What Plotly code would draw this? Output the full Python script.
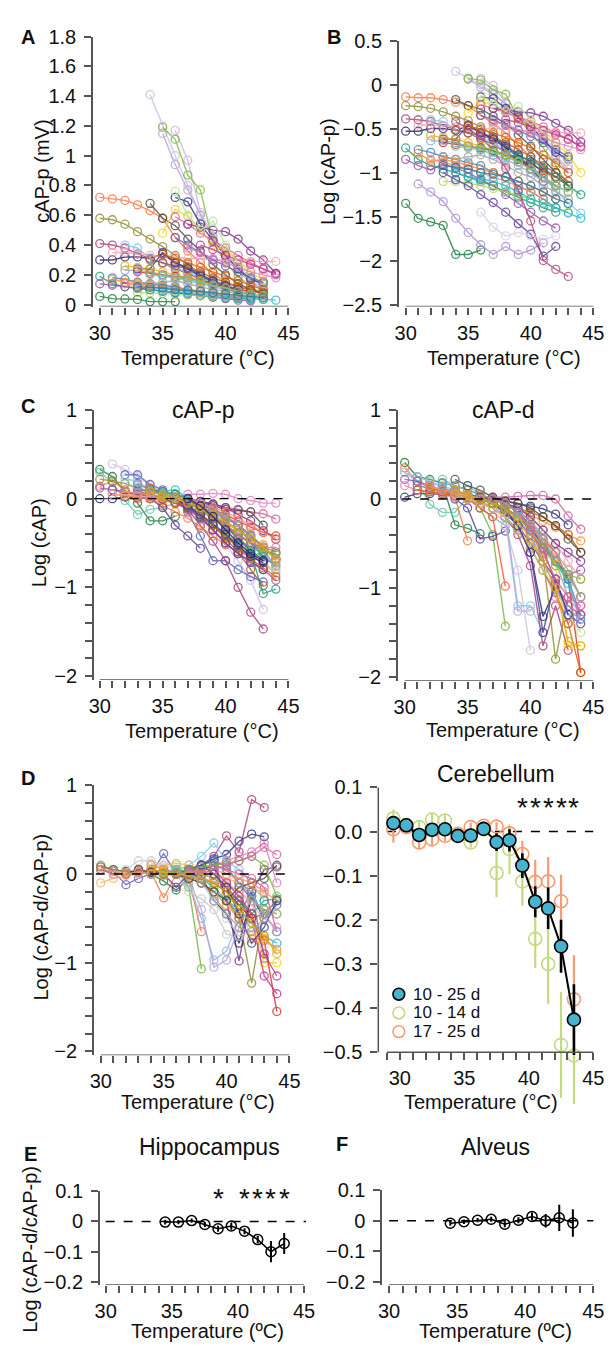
import plotly.graph_objects as go

W, H = 615, 1351
FONT = "Liberation Sans, Arial, sans-serif"
AX = "#555555"
TXT = "#111111"

# ======================= DATA =======================
# Spaghetti panels: each recording starts at *_start (°C) and has one value per 1 °C step.

# ---- Panel A: cAP-p amplitude (mV) ----
A_start = [34, 35, 36, 35, 36, 30, 34, 30, 30, 30, 32, 35, 36, 37, 31, 38, 33, 31, 30, 30,
           33, 34, 31, 30, 33, 32, 32, 34, 36, 33, 32, 34, 35, 36, 37, 33]
A_vals = [
    [1.41, 1.20, 1.00, 0.80, 0.60, 0.46, 0.35, 0.26, 0.18, 0.12],
    [1.15, 0.94, 0.77, 0.60, 0.44, 0.32, 0.22, 0.15, 0.10],
    [1.17, 0.97, 0.62, 0.46, 0.34, 0.24, 0.16, 0.11],
    [1.19, 1.11, 0.87, 0.77, 0.42, 0.28, 0.19, 0.12, 0.07],
    [0.72, 0.69, 0.54, 0.43, 0.33, 0.24, 0.17, 0.14],
    [0.72, 0.71, 0.70, 0.67, 0.63, 0.58, 0.45, 0.36, 0.28, 0.21, 0.15, 0.11, 0.08],
    [0.68, 0.58, 0.53, 0.44, 0.36, 0.27, 0.20, 0.14, 0.10, 0.07],
    [0.58, 0.57, 0.54, 0.49, 0.44, 0.39, 0.33, 0.27, 0.21, 0.16, 0.12, 0.09, 0.07],
    [0.41, 0.40, 0.38, 0.34, 0.31, 0.28, 0.24, 0.21, 0.17, 0.14, 0.11, 0.09, 0.07],
    [0.30, 0.30, 0.32, 0.32, 0.31, 0.34, 0.28, 0.24, 0.19, 0.15, 0.11, 0.08],
    [0.40, 0.38, 0.31, 0.28, 0.25, 0.22, 0.18, 0.15, 0.12, 0.09],
    [0.48, 0.64, 0.59, 0.50, 0.40, 0.36, 0.30, 0.22, 0.16],
    [0.59, 0.54, 0.48, 0.43, 0.38, 0.33, 0.28, 0.24, 0.21],
    [0.54, 0.52, 0.50, 0.49, 0.44, 0.36, 0.30, 0.21],
    [0.35, 0.35, 0.34, 0.33, 0.32, 0.32, 0.31, 0.31, 0.30, 0.30, 0.30, 0.29, 0.29, 0.29],
    [0.40, 0.37, 0.33, 0.30, 0.27, 0.24, 0.20],
    [0.22, 0.21, 0.20, 0.19, 0.18, 0.16, 0.14, 0.12, 0.10, 0.09, 0.08],
    [0.18, 0.17, 0.15, 0.14, 0.13, 0.12, 0.10, 0.09, 0.07, 0.06, 0.05, 0.04],
    [0.19, 0.14, 0.12, 0.11, 0.10, 0.09, 0.08, 0.07, 0.06, 0.05, 0.045, 0.04, 0.035],
    [0.055, 0.04, 0.038, 0.035, 0.02, 0.02, 0.02],
    [0.15, 0.14, 0.15, 0.16, 0.14, 0.12, 0.10, 0.09, 0.07, 0.06, 0.05],
    [0.30, 0.28, 0.26, 0.24, 0.22, 0.18, 0.15, 0.12, 0.10, 0.08],
    [0.17, 0.15, 0.14, 0.13, 0.12, 0.11, 0.10, 0.09, 0.08, 0.07, 0.06, 0.05],
    [0.14, 0.13, 0.12, 0.11, 0.10, 0.09, 0.08, 0.07, 0.06, 0.05, 0.04, 0.03, 0.025],
    [0.08, 0.08, 0.075, 0.07, 0.065, 0.06, 0.055, 0.05, 0.045, 0.04, 0.035],
    [0.23, 0.23, 0.22, 0.20, 0.18, 0.16, 0.14, 0.12, 0.10, 0.08, 0.07],
    [0.14, 0.13, 0.12, 0.11, 0.10, 0.09, 0.08, 0.07, 0.06, 0.05],
    [0.10, 0.09, 0.085, 0.08, 0.07, 0.06, 0.05, 0.045, 0.04, 0.035, 0.03],
    [0.76, 0.60, 0.50, 0.56, 0.40, 0.28, 0.20, 0.14],
    [0.24, 0.24, 0.35, 0.28, 0.25, 0.20, 0.16, 0.13, 0.10],
    [0.26, 0.25, 0.24, 0.22, 0.20, 0.18, 0.16, 0.13, 0.11, 0.09, 0.07, 0.06],
    [0.20, 0.19, 0.18, 0.17, 0.15, 0.13, 0.11, 0.09, 0.07, 0.06],
    [0.34, 0.31, 0.28, 0.25, 0.22, 0.19, 0.16, 0.13, 0.10],
    [0.45, 0.40, 0.35, 0.30, 0.26, 0.22, 0.18, 0.15],
    [0.38, 0.35, 0.31, 0.28, 0.25, 0.22, 0.20, 0.18],
    [0.12, 0.115, 0.11, 0.10, 0.095, 0.09, 0.08, 0.07, 0.06, 0.05, 0.045],
]

# ---- Panel B: Log (cAP-p) ----
B_start = [34, 35, 36, 35, 36, 30, 34, 30, 30, 30, 32, 35, 36, 37, 31, 38, 33, 31, 30, 30,
           33, 34, 31, 30, 33, 32, 32, 34, 36, 33, 31, 33, 34, 36, 36, 32, 34, 35, 36, 37, 33]
B_vals = [
    [0.15, 0.07, 0.0, -0.1, -0.22, -0.34, -0.46, -0.59, -0.74, -0.92],
    [0.06, -0.03, -0.11, -0.22, -0.36, -0.5, -0.66, -0.82, -1.0],
    [0.07, -0.01, -0.21, -0.34, -0.47, -0.62, -0.8, -0.96],
    [0.07, 0.05, -0.06, -0.11, -0.38, -0.55, -0.72, -0.92, -1.15],
    [-0.14, -0.16, -0.27, -0.37, -0.48, -0.62, -0.77, -0.85],
    [-0.14, -0.15, -0.15, -0.17, -0.2, -0.24, -0.35, -0.44, -0.55, -0.68, -0.82, -0.96, -1.1],
    [-0.17, -0.24, -0.28, -0.36, -0.44, -0.57, -0.7, -0.85, -1.0, -1.15],
    [-0.24, -0.25, -0.27, -0.31, -0.36, -0.41, -0.48, -0.57, -0.68, -0.8, -0.92, -1.05, -1.15],
    [-0.39, -0.4, -0.42, -0.47, -0.51, -0.55, -0.62, -0.68, -0.77, -0.85, -0.96, -1.05, -1.15],
    [-0.53, -0.53, -0.5, -0.5, -0.52, -0.47, -0.55, -0.62, -0.72, -0.82, -0.96, -1.1],
    [-0.4, -0.42, -0.51, -0.55, -0.6, -0.66, -0.74, -0.82, -0.92, -1.05, -1.2, -1.35, -1.46],
    [-0.32, -0.19, -0.23, -0.3, -0.4, -0.45, -0.52, -0.66, -0.8, -1.0],
    [-0.23, -0.27, -0.32, -0.37, -0.42, -0.48, -0.55, -0.62, -0.7],
    [-0.27, -0.29, -0.31, -0.32, -0.36, -0.44, -0.52, -0.65],
    [-0.46, -0.46, -0.47, -0.48, -0.49, -0.5, -0.5, -0.51, -0.52, -0.53, -0.53, -0.54, -0.55, -0.55],
    [-0.4, -0.43, -0.48, -0.52, -0.57, -0.62, -0.71],
    [-0.66, -0.68, -0.7, -0.72, -0.75, -0.8, -0.85, -0.9, -0.98, -1.05, -1.15],
    [-0.74, -0.77, -0.82, -0.85, -0.89, -0.92, -1.0, -1.05, -1.15, -1.22, -1.3, -1.4],
    [-0.72, -0.85, -0.92, -0.96, -1.0, -1.05, -1.1, -1.15, -1.22, -1.28, -1.34, -1.4, -1.45],
    [-1.35, -1.52, -1.56, -1.6, -1.93, -1.93, -1.88],
    [-0.82, -0.85, -0.82, -0.8, -0.85, -0.92, -1.0, -1.05, -1.15, -1.22, -1.3],
    [-0.52, -0.55, -0.58, -0.62, -0.66, -0.74, -0.82, -0.92, -1.0, -1.1],
    [-0.78, -0.87, -0.85, -0.88, -0.92, -0.96, -1.0, -1.05, -1.1, -1.15, -1.22, -1.3],
    [-0.85, -0.92, -0.97, -0.9, -0.95, -1.0, -1.08, -1.15, -1.25, -1.35, -1.45, -1.55, -1.63],
    [-1.1, -1.1, -1.12, -1.15, -1.18, -1.22, -1.26, -1.3, -1.35, -1.4, -1.45],
    [-0.64, -0.64, -0.66, -0.7, -0.74, -0.8, -0.85, -0.92, -1.0, -1.1, -1.15],
    [-0.85, -0.88, -0.92, -0.96, -1.0, -1.05, -1.1, -1.15, -1.22, -1.3],
    [-1.0, -1.05, -1.07, -1.1, -1.15, -1.22, -1.3, -1.35, -1.4, -1.46, -1.52],
    [-0.12, -0.22, -0.3, -0.25, -0.4, -0.55, -0.7, -0.85],
    [-0.62, -0.62, -0.46, -0.55, -0.6, -0.7, -0.8, -0.88, -1.0],
    [-1.13, -1.22, -1.33, -1.52, -1.68, -1.82, -1.93, -1.84, -1.93, -1.88, -1.8],
    [-1.0, -1.08, -1.15, -1.25, -1.34, -1.45, -1.58, -1.7, -1.95, -1.84],
    [-0.42, -0.5, -0.6, -0.75, -0.95, -1.2, -1.55, -2.0, -2.1, -2.18],
    [-1.45, -1.62, -1.72, -1.68, -1.72, -1.76, -1.72],
    [-0.72, -0.75, -0.8, -0.82, -0.85, -0.95, -1.05, -1.15, -1.25],
    [-0.58, -0.6, -0.62, -0.66, -0.7, -0.74, -0.8, -0.88, -0.96, -1.05, -1.15, -1.22],
    [-0.7, -0.72, -0.74, -0.77, -0.82, -0.88, -0.96, -1.05, -1.15, -1.22],
    [-0.47, -0.51, -0.55, -0.6, -0.66, -0.72, -0.8, -0.89, -1.0],
    [-0.35, -0.4, -0.46, -0.52, -0.59, -0.66, -0.74, -0.82],
    [-0.42, -0.46, -0.51, -0.55, -0.6, -0.66, -0.7, -0.74],
    [-0.92, -0.94, -0.96, -1.0, -1.02, -1.05, -1.1, -1.15, -1.22, -1.3, -1.35],
]

# ---- Panel C (left): normalised Log (cAP-p) ----
Cp_start = [30, 30, 31, 32, 33, 30, 36, 37, 34, 30, 30, 36, 33, 31, 30, 33, 31, 33, 32, 35,
            37, 33, 33, 34, 35, 31, 35, 36, 34, 35, 37, 33, 32, 36, 35, 36, 34, 37]
Cp_vals = [
    [0.33, 0.25, 0.08, -0.05, -0.25, -0.25, -0.2],
    [0.30, 0.18, -0.02, -0.18, -0.12, -0.1, -0.05, 0.0, -0.1, -0.2, -0.3, -0.45, -0.55, -0.62],
    [0.39, 0.33, 0.25, 0.15, 0.08, 0.0, -0.1, -0.22, -0.36, -0.52, -0.7, -0.92, -1.25],
    [0.27, 0.27, 0.16, 0.1, 0.0, -0.15, -0.42, -0.7, -0.7, -0.8, -0.88, -0.94],
    [0.17, 0.1, 0.05, 0.0, -0.12, -0.3, -0.48, -0.7, -1.0, -1.28, -1.47],
    [0.14, 0.2, 0.1, 0.0, 0.02, -0.08, -0.15, -0.22, -0.32, -0.42, -0.52, -0.6, -0.65, -0.7, -0.72],
    [0.02, 0.05, 0.05, 0.06, 0.05, 0.0, -0.02, -0.05, -0.05],
    [0.0, -0.03, -0.06, -0.1, -0.12, -0.15, -0.17, -0.23],
    [0.1, 0.05, 0.0, -0.02, -0.04, -0.08, -0.12, -0.13, -0.15, -0.3],
    [0.22, 0.2, 0.17, 0.12, 0.08, 0.04, 0.0, -0.05, -0.12, -0.2, -0.3, -0.4, -0.5, -0.55, -0.6],
    [0.0, 0.0, 0.02, 0.02, 0.0, 0.04, 0.0, -0.1, -0.2, -0.3, -0.4, -0.55, -0.65, -0.72],
    [0.0, -0.03, -0.12, -0.22, -0.3, -0.45, -0.58, -0.7],
    [0.02, 0.0, -0.1, -0.3, -0.42, -0.56],
    [0.1, 0.08, 0.05, 0.03, 0.0, -0.04, -0.08, -0.15, -0.22, -0.3, -0.4, -0.5, -0.65, -0.76],
    [0.12, 0.1, 0.08, 0.05, 0.02, 0.0, -0.05, -0.12, -0.22, -0.35, -0.5, -0.62, -0.7, -0.8, -0.92],
    [0.06, 0.04, 0.02, 0.0, -0.03, -0.08, -0.12, -0.18, -0.25, -0.32, -0.38, -0.42],
    [0.05, 0.03, 0.02, 0.0, -0.02, -0.05, -0.1, -0.15, -0.2, -0.28, -0.36, -0.44, -0.52, -0.7],
    [0.08, 0.05, 0.0, -0.05, -0.1, -0.2, -0.3, -0.45, -0.6, -0.8, -0.98],
    [0.22, 0.2, 0.1, 0.06, 0.02, -0.02, -0.08, -0.15, -0.25, -0.35, -0.48, -0.62, -0.75],
    [0.05, 0.03, 0.0, -0.05, -0.12, -0.2, -0.3, -0.4, -0.55, -0.68],
    [0.0, -0.03, -0.06, -0.1, -0.18, -0.25, -0.36, -0.46],
    [0.1, 0.08, 0.05, 0.0, -0.05, -0.1, -0.15, -0.22, -0.3, -0.5, -0.6, -0.62],
    [0.15, 0.12, 0.08, 0.05, 0.0, -0.08, -0.15, -0.22, -0.3, -0.4, -0.55, -0.8],
    [0.1, 0.08, 0.1, 0.0, -0.05, -0.12, -0.2, -0.3, -0.42, -0.55, -0.68],
    [0.05, 0.0, -0.1, -0.2, -0.3, -0.4, -0.5, -0.6, -0.72, -0.82],
    [0.05, 0.04, 0.03, 0.02, 0.01, 0.0, -0.08, -0.16, -0.2, -0.32, -0.45, -0.6, -0.72, -0.85],
    [0.02, 0.0, -0.1, -0.2, -0.3, -0.42, -0.55, -0.65, -0.6],
    [0.0, -0.1, -0.2, -0.35, -0.5, -0.62, -0.72, -0.8],
    [0.12, 0.05, 0.0, -0.08, -0.18, -0.3, -0.42, -0.55, -0.68, -0.78, -0.88],
    [0.08, 0.05, 0.0, -0.1, -0.2, -0.32, -0.45, -0.6, -1.07, -1.02],
    [0.0, -0.05, -0.12, -0.2, -0.3, -0.42, -0.55, -0.68],
    [0.12, 0.08, 0.05, 0.02, 0.0, -0.05, -0.12, -0.2, -0.3, -0.42, -0.55, -0.68],
    [0.08, 0.06, 0.04, 0.02, 0.0, 0.0, -0.05, -0.1, -0.15, -0.22, -0.3, -0.38, -0.45],
    [0.0, -0.08, -0.18, -0.28, -0.4, -0.52, -0.65, -0.72],
    [0.03, 0.0, -0.05, -0.12, -0.2, -0.3, -0.4, -0.5, -0.58, -0.62],
    [0.0, -0.05, -0.1, -0.18, -0.3, -0.42, -0.5, -0.55, -0.55],
    [0.08, 0.04, 0.0, -0.04, -0.1, -0.18, -0.26, -0.35, -0.45, -0.55, -0.68],
    [0.0, -0.08, -0.2, -0.35, -0.5, -0.62, -0.7],
]

# ---- Panel C (right): normalised Log (cAP-d) ----
Cd_start = [30, 35, 30, 30, 33, 33, 36, 30, 30, 31, 33, 36, 34, 32, 35, 33, 31, 30, 34, 32,
            33, 36, 35, 33, 31, 35, 30, 34, 31, 34, 36, 33, 32, 36, 35, 37, 34, 36]
Cd_vals = [
    [0.41, 0.25, 0.22, 0.18, -0.29, -0.33, -0.39],
    [0.05, -0.1, -0.4, -1.43],
    [0.3, 0.2, -0.06, -0.15, -0.15, 0.02, -0.1, -0.2, -0.3],
    [0.35, 0.2, 0.12, 0.08, 0.02, -0.47],
    [0.1, 0.05, 0.0, -0.1, -0.2, -0.98],
    [0.08, 0.0, -0.1, -0.45, -0.42, -0.36],
    [0.02, 0.02, 0.02, 0.03, 0.04, 0.04, 0.0, -0.19, -0.34],
    [0.02, 0.06, 0.06, 0.05, 0.04, 0.02, 0.0, -0.01, -0.03, -0.05, -0.08, -0.11, -0.17, -0.29],
    [0.3, 0.25, 0.2, 0.15, 0.1, 0.05, 0.0, -0.1, -0.3, -0.8, -1.7],
    [0.25, 0.2, 0.12, 0.1, 0.15, 0.05, 0.0, -0.15, -1.2, -1.2, -1.5],
    [0.1, 0.08, 0.05, 0.0, -0.05, -0.2, -1.26, -1.26],
    [0.0, -0.05, -0.15, -0.3, -0.6, -1.32, -1.0],
    [0.05, 0.0, -0.05, -0.1, -0.2, -0.4, -0.75, -1.65, -1.2, -1.7],
    [0.1, 0.08, 0.05, 0.02, 0.0, -0.05, -0.1, -0.2, -0.35, -0.65, -1.8, -1.1],
    [0.05, 0.02, 0.0, -0.05, -0.15, -0.3, -0.5, -0.75, -1.65, -1.65],
    [0.1, 0.08, 0.05, 0.0, -0.05, -0.12, -0.2, -0.3, -0.45, -0.6, -0.9, -1.95],
    [0.15, 0.12, 0.1, 0.05, 0.02, 0.0, -0.05, -0.1, -0.2, -0.32, -0.5, -0.7, -0.9, -1.3],
    [0.22, 0.2, 0.15, 0.1, 0.05, 0.02, 0.0, -0.05, -0.15, -0.25, -0.4, -0.55, -0.7, -0.85, -0.8],
    [0.1, 0.05, 0.0, -0.02, -0.05, -0.1, -0.15, -0.2, -0.3, -0.4, -0.6],
    [0.12, 0.1, 0.08, 0.05, 0.02, 0.0, -0.05, -0.1, -0.18, -0.25, -0.32, -0.4, -0.47],
    [0.18, 0.15, 0.1, 0.05, 0.0, -0.05, -0.12, -0.25, -0.45, -0.7, -0.95, -1.35],
    [0.0, -0.05, -0.1, -0.2, -0.35, -0.5, -0.7, -0.85, -1.1],
    [0.02, 0.0, -0.05, -0.15, -0.3, -0.5, -0.7, -0.9, -1.3, -1.4],
    [0.22, 0.15, 0.1, 0.05, 0.0, -0.05, -0.15, -0.3, -0.5, -0.7, -1.1, -1.3],
    [0.1, 0.08, 0.06, 0.04, 0.02, 0.0, -0.02, -0.05, -0.1, -0.2, -0.35, -0.5, -0.7, -0.9],
    [0.05, 0.02, 0.0, -0.05, -0.1, -0.2, -0.35, -0.5, -0.6, -0.7],
    [0.15, 0.1, 0.08, 0.05, 0.02, 0.0, -0.02, -0.1, -0.2, -0.35, -0.55, -0.8, -1.1, -1.4, -1.2],
    [0.22, 0.15, 0.1, 0.02, -0.02, -0.05, -0.1, -0.2, -0.3, -0.45, -0.6],
    [0.1, 0.08, 0.06, 0.04, 0.0, -0.05, -0.1, -0.2, -0.35, -0.55, -0.8, -1.05, -1.4, -1.95],
    [0.05, 0.0, -0.05, -0.1, -0.2, -0.35, -0.55, -0.8, -1.0, -1.3, -1.5],
    [0.02, 0.0, -0.05, -0.15, -0.3, -0.55, -0.95, -1.2, -1.3],
    [0.12, 0.08, 0.05, 0.0, -0.05, -0.12, -0.22, -0.4, -0.7, -1.0, -1.25, -1.35],
    [0.15, 0.1, 0.06, 0.03, 0.0, -0.05, -0.1, -0.2, -0.3, -0.45, -0.65, -0.85, -1.1],
    [0.0, -0.05, -0.12, -0.3, -0.6, -1.5, -0.9, -1.3],
    [0.05, 0.0, -0.05, -0.1, -0.2, -0.35, -0.55, -0.75, -0.85, -0.9],
    [0.0, -0.05, -0.15, -0.35, -0.6, -0.9, -1.1, -1.2],
    [0.1, 0.05, 0.0, -0.05, -0.12, -0.25, -0.45, -0.7, -1.0, -1.6, -1.65],
    [0.05, 0.0, -0.05, -0.15, -0.25, -0.4, -0.6, -0.8, -1.1],
]

# ---- Panel D (left): Log (cAP-d / cAP-p) per recording ----
Dr_start = [36, 34, 30, 30, 32, 30, 35, 36, 36, 34, 35, 37, 37, 37, 37, 38, 37, 36, 34, 30,
            35, 30, 32, 36, 31, 36, 33, 34, 32, 36, 33, 30, 36, 35, 37, 34, 36]
Dr_vals = [
    [0.0, 0.02, 0.1, 0.2, 0.43, 0.25, 0.84, 0.75],
    [0.05, 0.0, 0.02, 0.05, 0.1, 0.17, 0.22, 0.37, 0.45, 0.42],
    [0.05, 0.03, -0.12, -0.05, 0.0, 0.23, 0.0, 0.0, 0.1, 0.15, -0.3, -0.45, -0.2, -0.95],
    [0.1, 0.05, 0.02, 0.05, 0.02, -0.27, 0.0, -0.05, -0.65],
    [0.03, 0.02, 0.0, 0.02, 0.05, -0.15, -1.07],
    [0.08, 0.05, 0.03, 0.02, 0.0, -0.08, -0.18, -0.05],
    [0.05, 0.02, 0.1, 0.2, 0.35, 0.15, 0.05, -0.1, -0.3],
    [0.0, -0.1, -0.5, -0.97, -0.87, -0.5],
    [0.02, -0.05, -0.4, -1.05, -0.97, -0.6, -0.3],
    [0.12, 0.08, 0.0, -0.2, -0.28, -0.4, -0.68, -0.7, -0.6],
    [0.0, -0.15, 0.0, 0.05, 0.1, -0.3, -0.98, -0.2, 0.05, 0.08],
    [0.0, -0.1, -0.2, -0.3, -0.5, -1.23, -0.4],
    [0.0, -0.05, -0.1, -0.2, -0.3, -0.45, -1.0, -1.0],
    [0.02, 0.05, 0.1, 0.15, 0.2, 0.25, 0.35, -0.1],
    [0.0, -0.05, -0.1, -0.2, -0.35, -0.5, -0.75, -1.55],
    [0.0, -0.05, -0.15, -0.3, -0.5, -1.15, -1.35],
    [0.0, -0.02, -0.3, -0.45, -0.78, -0.25, -0.5],
    [0.02, 0.0, -0.05, -0.1, -0.2, -0.3, -0.45, -0.3, -0.28],
    [0.02, 0.0, 0.02, 0.05, 0.1, 0.15, 0.08, -0.1, -0.2, -0.5, -0.35],
    [0.05, 0.0, 0.0, 0.02, 0.02, 0.05, 0.0, 0.03, 0.05, 0.1, 0.05, -0.1, -0.3, -0.4, -0.45],
    [0.0, 0.02, 0.0, -0.05, -0.1, -0.2, -0.35, -0.5, -0.45, -0.3],
    [-0.1, -0.05, -0.02, 0.0, 0.05, 0.1, 0.12, 0.1, 0.05, 0.0, -0.05, -0.1, -0.15, -0.22],
    [0.05, 0.15, 0.15, 0.1, 0.05, 0.0, -0.1, -0.3, -0.5, -0.7, -0.65, -0.8],
    [0.1, 0.05, 0.0, -0.05, -0.1, -0.2, -0.3, -0.4, -0.45],
    [0.0, 0.0, 0.02, 0.0, 0.02, 0.0, -0.02, -0.05, -0.08, -0.12, -0.2, -0.35, -0.5, -0.6],
    [0.05, 0.0, -0.05, -0.15, -0.3, -0.4, -0.55, -0.7, -0.78],
    [0.05, 0.0, 0.02, 0.0, 0.0, 0.05, 0.1, 0.05, 0.0, -0.05, -0.15, -0.65],
    [0.1, 0.05, 0.0, -0.05, -0.1, -0.2, -0.35, -0.5, -0.73, -0.73, -0.85],
    [0.0, 0.05, 0.02, 0.0, 0.0, -0.05, -0.1, -0.2, -0.3, -0.15, -0.1, -0.05, 0.1],
    [0.0, 0.05, 0.1, 0.05, -0.1, -0.25, -0.45, -0.9, -1.15],
    [0.02, 0.0, 0.0, 0.02, 0.05, 0.08, 0.1, 0.05, -0.1, -0.25, -0.45, -0.65],
    [0.05, 0.03, 0.0, 0.02, 0.0, -0.02, 0.0, 0.02, 0.05, 0.05, 0.0, -0.05, -0.1, -0.2, -0.3],
    [0.0, 0.05, 0.1, 0.0, -0.15, -0.45, -0.78, -0.6, -0.3],
    [0.0, 0.02, 0.05, 0.08, 0.1, 0.12, 0.15, 0.2, 0.1, -0.25],
    [0.02, 0.0, 0.05, 0.1, 0.15, 0.2, 0.3, 0.22],
    [0.05, 0.02, 0.0, -0.02, -0.05, -0.1, -0.2, -0.4, -0.55, -0.7, -0.9],
    [0.02, 0.0, -0.1, -0.25, -0.45, -0.6, -0.65, -0.5],
]

# ---- Panel D (right): Cerebellum means ± error ----
cb_temp = [29.5, 30.5, 31.5, 32.5, 33.5, 34.5, 35.5, 36.5, 37.5, 38.5, 39.5, 40.5, 41.5, 42.5, 43.5]
cb_all = [0.019, 0.014, -0.008, 0.004, 0.005, -0.01, -0.009, 0.006, -0.024, -0.02,
          -0.077, -0.159, -0.174, -0.26, -0.426]
cb_all_err = [0.012, 0.01, 0.012, 0.01, 0.01, 0.01, 0.01, 0.01, 0.02, 0.025,
              0.028, 0.035, 0.047, 0.06, 0.08]
cb_young = [0.03, 0.015, 0.01, 0.027, 0.025, -0.01, -0.025, 0.005, -0.094, -0.04,
            -0.113, -0.243, -0.3, -0.483, -0.507]
cb_young_err = [0.02, 0.015, 0.015, 0.015, 0.015, 0.012, 0.012, 0.01, 0.055, 0.056,
                0.055, 0.066, 0.09, 0.12, 0.11]
cb_old = [0.005, 0.01, -0.025, -0.018, -0.01, -0.005, 0.01, 0.013, 0.011, -0.004,
          -0.051, -0.114, -0.113, -0.158, -0.38]
cb_old_err = [0.03, 0.015, 0.015, 0.015, 0.012, 0.01, 0.01, 0.01, 0.01, 0.015,
              0.03, 0.05, 0.055, 0.06, 0.1]
cb_sig = [39.5, 40.5, 41.5, 42.5, 43.5]
group_names = ["10 - 25 d", "10 - 14 d", "17 - 25 d"]

# ---- Panels E / F ----
hf_temp = [34.5, 35.5, 36.5, 37.5, 38.5, 39.5, 40.5, 41.5, 42.5, 43.5]
hip_mean = [-0.002, -0.002, 0.003, -0.01, -0.024, -0.015, -0.032, -0.06, -0.1, -0.073]
hip_err = [0.008, 0.007, 0.007, 0.008, 0.01, 0.012, 0.01, 0.012, 0.035, 0.035]
hip_sig = [38.5, 40.5, 41.5, 42.5, 43.5]
alv_mean = [-0.008, -0.003, 0.002, 0.005, -0.011, 0.002, 0.014, 0.0, 0.01, -0.007]
alv_err = [0.008, 0.007, 0.007, 0.008, 0.01, 0.01, 0.013, 0.022, 0.043, 0.045]

# ======================= STYLE =======================
EXTRA = ["#C2338A", "#8A9FD0", "#F9906A", "#3A3A9A", "#7DB83A", "#DA5FA2", "#E6AB02", "#A0A0A0"]
EXTRA_AB = ["#E6AB02", "#66C2A5", "#D95F02", "#5E5EB8", "#E07BC0", "#1F78B4"]
A_colors = ["#CBBDE3", "#B7A3D6", "#C8B3DE", "#7DB83A", "#2E2E7E", "#F4743B", "#4A4A40",
            "#8A8A2E", "#A63C7A", "#1E1E66", "#7FC6E6", "#F8D21C", "#DA5FA2", "#7A2E8E",
            "#F2A0AE", "#C2338A", "#E3261F", "#3B7DC0", "#1A9A7A", "#167A35", "#A0A0A0",
            "#A6532A", "#FF8A1E", "#9350A6", "#A8D55A", "#8A9FD0", "#F9906A", "#1FB7C9",
            "#B9E096", "#3A3A9A"]
B_colors = A_colors + ["#A890CF", "#5B3A96", "#B0447A", "#D7CDEA", "#1A9A7A"] + EXTRA_AB
A_colors = A_colors + EXTRA_AB
Cp_colors = ["#167A35", "#66C2A5", "#CBBDE3", "#5E5EB8", "#A63C7A", "#F4743B", "#E07BC0",
             "#D05A9E", "#4A4A40", "#8A8A2E", "#1E1E66", "#2E2E7E", "#5B3A96", "#3B7DC0",
             "#9350A6", "#E3261F", "#FF8A1E", "#A6532A", "#7FC6E6", "#F8D21C", "#7A2E8E",
             "#1F78B4", "#A0A0A0", "#1FB7C9", "#B9E096", "#F2A0AE", "#4DAF4A", "#6A3D9A",
             "#D95F02", "#1A9A7A"] + EXTRA[:7] + ["#1E1E66"]
Cd_colors = ["#167A35", "#6DB33F", "#66C2A5", "#F4743B", "#FC4E2A", "#5B3A96", "#D05A9E",
             "#2E2E7E", "#CBBDE3", "#7FC6E6", "#B7A3D6", "#1E1E66", "#A63C7A", "#8A8A2E",
             "#F8D21C", "#E3261F", "#3B7DC0", "#9350A6", "#A6532A", "#FF8A1E", "#1FB7C9",
             "#1A9A7A", "#6A3D9A", "#A0A0A0", "#F2A0AE", "#7A2E8E", "#E07BC0", "#4A4A40",
             "#D95F02", "#B9E096"] + EXTRA
Dr_colors = ["#A63C7A", "#2E2E7E", "#5E5EB8", "#F4743B", "#6DB33F", "#167A35", "#7FC6E6",
             "#8FB8DE", "#B7A3D6", "#C8C8C8", "#7A2E8E", "#8A8A2E", "#F8D21C", "#E07BC0",
             "#E3261F", "#C2338A", "#1E1E66", "#1A9A7A", "#3B7DC0", "#9350A6", "#A6532A",
             "#FDAE61", "#CCCCCC", "#A8D55A", "#F2A0AE", "#1FB7C9", "#D05A9E", "#FF8A1E",
             "#4A4A40"] + EXTRA

BLUE = "#47B3CE"
GREEN = "#C4DA80"
ORANGE = "#F69C74"

fig = go.Figure()


def ax_names(n):
    return ("x" if n == 1 else f"x{n}"), ("y" if n == 1 else f"y{n}")


def add_spaghetti(n, starts, vals, colors):
    xa, ya = ax_names(n)
    for s, v, c in zip(starts, vals, colors):
        xs = [s + i for i in range(len(v))]
        fig.add_trace(go.Scatter(
            x=xs, y=v, mode="lines+markers", xaxis=xa, yaxis=ya,
            line=dict(color=c, width=1.4),
            marker=dict(symbol="circle-open", size=8, color=c, line=dict(width=1.3)),
            opacity=0.8, showlegend=False, hoverinfo="skip"))


add_spaghetti(1, A_start, A_vals, A_colors)
add_spaghetti(2, B_start, B_vals, B_colors)
add_spaghetti(3, Cp_start, Cp_vals, Cp_colors)
add_spaghetti(4, Cd_start, Cd_vals, Cd_colors)
add_spaghetti(5, Dr_start, Dr_vals, Dr_colors)

for yv, err, col in [(cb_young, cb_young_err, GREEN), (cb_old, cb_old_err, ORANGE)]:
    fig.add_trace(go.Scatter(
        x=cb_temp, y=yv, mode="markers", xaxis="x6", yaxis="y6",
        marker=dict(symbol="circle-open", size=13, color=col, line=dict(width=1.6)),
        error_y=dict(type="data", array=err, color=col, thickness=2.2, width=0),
        cliponaxis=False, showlegend=False, hoverinfo="skip"))
fig.add_trace(go.Scatter(
    x=cb_temp, y=cb_all, mode="lines+markers", xaxis="x6", yaxis="y6",
    line=dict(color="black", width=2),
    marker=dict(symbol="circle", size=13, color=BLUE, line=dict(color="black", width=1.6)),
    error_y=dict(type="data", array=cb_all_err, color="black", thickness=2.6, width=0),
    cliponaxis=False, showlegend=False, hoverinfo="skip"))

for n, mean, err in [(7, hip_mean, hip_err), (8, alv_mean, alv_err)]:
    xa, ya = ax_names(n)
    fig.add_trace(go.Scatter(
        x=hf_temp, y=mean, mode="lines+markers", xaxis=xa, yaxis=ya,
        line=dict(color="black", width=1.5),
        marker=dict(symbol="circle-open", size=10, color="black", line=dict(width=1.5)),
        error_y=dict(type="data", array=err, color="black", thickness=2, width=0),
        cliponaxis=False, showlegend=False, hoverinfo="skip"))

# ======================= AXES =======================
def lin(v_a, p_a, v_b, p_b, p):
    return v_a + (p - p_a) * (v_b - v_a) / (p_b - p_a)


# n, x-domain px, (px of 30, px of 45), axis y px (bottom, top), y calibration, plot-area bottom px
panels = [
    (1, (90, 292), (97, 290), (300, 26), (0, 298, 1.8, 26), 300),
    (2, (403, 604), (410, 602), (300, 30), (0.5, 30, -2.5, 298), 300),
    (3, (91, 292), (97, 290), (679, 405), (1, 405, -2, 675), 679),
    (4, (402, 604), (409, 602), (680, 405), (1, 405, -2, 676), 680),
    (5, (91, 293), (98, 291), (1060, 786), (1, 786, -2, 1056), 1060),
    (6, (382, 604), (404, 602), (1057, 788), (0.1, 788, -0.5, 1057), 1115),
    (7, (97, 308), (103, 306), (1293, 1198), (0.1, 1198, -0.2, 1290), 1293),
    (8, (386, 604), (393, 602), (1293, 1197), (0.1, 1197, -0.2, 1290), 1293),
]


def fmt(v, dec):
    s = f"{abs(v):.{dec}f}" if dec else f"{abs(v):g}"
    return ("\u2212" if v < -1e-9 else "") + s


def step_vals(top, bottom, step):
    out, k = [], 0
    while True:
        v = round(top - k * step, 4)
        if v < bottom - 1e-9:
            break
        out.append(v)
        k += 1
    return out


def int_only(v):
    return fmt(v, 0) if abs(v - round(v)) < 1e-6 else ""


y_ticks = {
    1: (step_vals(1.8, 0, 0.2), lambda v: fmt(v, 0)),
    2: (step_vals(0.5, -2.5, 0.5), lambda v: fmt(v, 0)),
    3: (step_vals(1, -2, 0.2), int_only),
    4: (step_vals(1, -2, 0.2), int_only),
    5: (step_vals(1, -2, 0.2), int_only),
    6: (step_vals(0.1, -0.5, 0.1), lambda v: fmt(v, 1)),
    7: (step_vals(0.1, -0.2, 0.1), lambda v: fmt(v, 0)),
    8: (step_vals(0.1, -0.2, 0.1), lambda v: fmt(v, 0)),
}

tickfont = dict(family=FONT, size=20, color=TXT)
shapes = []
for n, xd, xc, yd, yc, area_bottom in panels:
    xa, ya = ax_names(n)
    xk = "xaxis" if n == 1 else f"xaxis{n}"
    yk = "yaxis" if n == 1 else f"yaxis{n}"
    xr = [lin(30, xc[0], 45, xc[1], xd[0]), lin(30, xc[0], 45, xc[1], xd[1])]
    yr = [lin(yc[0], yc[1], yc[2], yc[3], area_bottom), lin(yc[0], yc[1], yc[2], yc[3], yd[1])]
    y_axis_bottom = lin(yc[0], yc[1], yc[2], yc[3], yd[0])
    extended = area_bottom != yd[0]
    x_first = 29 if n == 6 else 30
    xtv = list(range(x_first, 46))
    xtt = [str(t) if t % 5 == 0 else "" for t in xtv]
    yv, yf = y_ticks[n]
    xdict = dict(domain=[xd[0] / W, xd[1] / W], range=xr, showline=False,
                 showgrid=False, zeroline=False, ticks="outside", ticklen=7, tickwidth=1.5,
                 tickcolor=AX, tickvals=xtv, ticktext=xtt, tickfont=tickfont,
                 ticklabelstandoff=1, fixedrange=True)
    if extended:
        xdict.update(anchor="free", position=1 - yd[0] / H)
    else:
        xdict.update(anchor=ya)
    ydict = dict(domain=[1 - area_bottom / H, 1 - yd[1] / H], range=yr, anchor=xa,
                 showline=not extended, linecolor=AX, linewidth=1.5, showgrid=False,
                 zeroline=False, ticks="outside", ticklen=7, tickwidth=1.5, tickcolor=AX,
                 tickvals=yv, ticktext=[yf(v) for v in yv], tickfont=tickfont,
                 ticklabelstandoff=4, fixedrange=True)
    fig.update_layout(**{xk: xdict, yk: ydict})
    # x axis line: from the first tick to 45, at the axis level
    shapes.append(dict(type="line", xref=xa, yref=ya, x0=x_first, x1=45,
                       y0=y_axis_bottom, y1=y_axis_bottom,
                       line=dict(color=AX, width=1.5), layer="above"))
    if extended:
        shapes.append(dict(type="line", xref=f"{xa} domain", yref=ya, x0=0, x1=0,
                           y0=y_axis_bottom, y1=yr[1], line=dict(color=AX, width=1.5), layer="above"))

zero_spans = {3: (29.5, 44.8), 4: (29.8, 45), 5: (29.6, 44.7), 6: (29, 45), 7: (30, 45.3), 8: (30, 45)}
for n, (a, b) in zero_spans.items():
    xa, ya = ax_names(n)
    shapes.append(dict(type="line", xref=xa, yref=ya, x0=a, x1=b, y0=0, y1=0,
                       line=dict(color="black", width=1.4, dash="dash"),
                       layer="above" if n in (3, 4, 5) else "below"))

leg_y = [998, 1017, 1036]
leg_style = [(BLUE, "black"), ("rgba(0,0,0,0)", GREEN), ("rgba(0,0,0,0)", ORANGE)]
for yy, (fc, lc) in zip(leg_y, leg_style):
    r = 6
    shapes.append(dict(type="circle", xref="paper", yref="paper",
                       x0=(403 - r) / W, x1=(403 + r) / W, y0=1 - (yy + r) / H, y1=1 - (yy - r) / H,
                       fillcolor=fc, line=dict(color=lc, width=1.6)))

ann = []


def txt(x, y, s, size, bold=False, angle=0, xanchor="center"):
    ann.append(dict(x=x / W, y=1 - y / H, xref="paper", yref="paper", text=f"<b>{s}</b>" if bold else s,
                    showarrow=False, textangle=angle, xanchor=xanchor, yanchor="middle",
                    font=dict(family=FONT, size=size, color=TXT)))


for s, x, y in [("A", 24, 26), ("B", 337, 26), ("C", 24, 401), ("D", 24, 779), ("E", 26, 1160), ("F", 345, 1150)]:
    txt(x, y, s, 20, bold=True)
for s, x, y in [("cAP-p", 203, 405), ("cAP-d", 510, 405), ("Cerebellum", 502, 774),
                ("Hippocampus", 209, 1153), ("Alveus", 502, 1153)]:
    txt(x, y, s, 23)
for s, x, y in [("cAP-p (mV)", 37, 163), ("Log (cAP-p)", 330, 163), ("Log (cAP)", 35, 540),
                ("Log (cAP-d/cAP-p)", 37, 920), ("Log (cAP-d/cAP-p)", 26, 1257)]:
    txt(x, y, s, 20, angle=-90)
for s, x, y in [("Temperature (°C)", 197, 352), ("Temperature (°C)", 511, 352),
                ("Temperature (°C)", 202, 731), ("Temperature (°C)", 510, 730),
                ("Temperature (°C)", 198, 1107), ("Temperature (°C)", 487, 1107),
                ("Temperature (ºC)", 207, 1340), ("Temperature (ºC)", 502, 1340)]:
    txt(x, y, s, 20)
for s, yy in zip(group_names, leg_y):
    txt(415, yy, s, 17, xanchor="left")

for t in cb_sig:
    ann.append(dict(x=t, y=0.054, xref="x6", yref="y6", text="*", showarrow=False,
                    xanchor="center", yanchor="middle", font=dict(family=FONT, size=28, color=TXT)))
for t in hip_sig:
    ann.append(dict(x=t, y=0.075, xref="x7", yref="y7", text="*", showarrow=False,
                    xanchor="center", yanchor="middle", font=dict(family=FONT, size=28, color=TXT)))

fig.update_layout(width=W, height=H, margin=dict(l=0, r=0, t=0, b=0),
                  paper_bgcolor="white", plot_bgcolor="white", showlegend=False,
                  font=dict(family=FONT, color=TXT), shapes=shapes, annotations=ann)

fig.write_html(
    "out.html",
    config={"displayModeBar": False},
    post_script=("var d=document.getElementById('{plot_id}');"
                 "document.documentElement.style.margin='0';document.body.style.margin='0';"
                 "document.documentElement.style.overflow='hidden';document.body.style.overflow='hidden';"
                 "d.style.position='fixed';d.style.left='0px';d.style.top='0px';"),
)
